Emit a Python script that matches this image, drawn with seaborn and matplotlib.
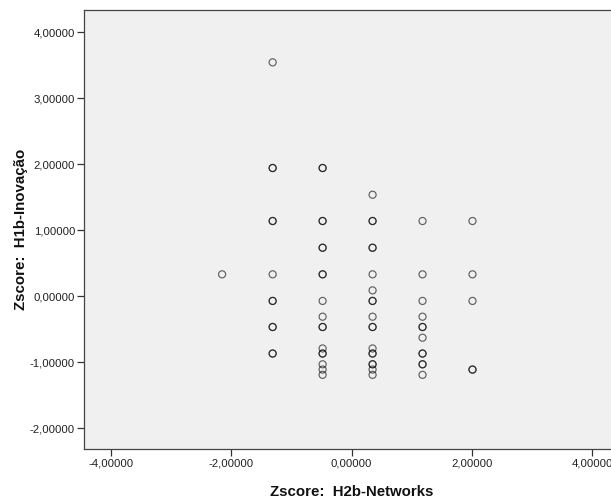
import seaborn as sns
import matplotlib.pyplot as plt
import pandas as pd

# x positions of the columns (z-score of H2b-Networks)
net_levels = [-2.15, -1.31, -0.48, 0.35, 1.18, 2.01]
# y values (z-score of H1b-Inovacao) per column; repeats = overlapping cases
inov_col1 = [0.333]
inov_col2 = [3.545, 1.944, 1.944, 1.141, 1.141, 0.333, -0.07, -0.07,
             -0.465, -0.465, -0.867, -0.867]
inov_col3 = [1.944, 1.944, 1.141, 1.141, 0.736, 0.736, 0.333, 0.333, -0.07,
             -0.309, -0.465, -0.465, -0.79, -0.867, -0.867, -1.03, -1.11, -1.19]
inov_col4 = [1.539, 1.141, 1.141, 0.736, 0.736, 0.333, 0.09, -0.07, -0.07,
             -0.309, -0.465, -0.465, -0.79, -0.867, -0.867, -1.03, -1.03,
             -1.11, -1.19]
inov_col5 = [1.141, 0.333, -0.07, -0.309, -0.465, -0.465, -0.627, -0.867,
             -0.867, -1.03, -1.03, -1.19]
inov_col6 = [1.141, 0.333, -0.07, -1.11, -1.11]
x_ticks = [-4, -2, 0, 2, 4]
y_ticks = [-2, -1, 0, 1, 2, 3, 4]

cols = [inov_col1, inov_col2, inov_col3, inov_col4, inov_col5, inov_col6]
frames = []
for lvl, ys in zip(net_levels, cols):
    frames.append(pd.DataFrame({"net": lvl, "inov": ys}))
df = pd.concat(frames, ignore_index=True)

sns.set_style("white")
plt.rcParams["font.family"] = ["Liberation Sans", "DejaVu Sans"]

fig = plt.figure(figsize=(6.11, 5.01), dpi=100)
ax = fig.add_axes([84 / 611, 51.7 / 501, 535 / 611, 439.3 / 501])
ax.set_facecolor("#f0f0f0")

sns.scatterplot(data=df, x="net", y="inov", ax=ax, marker="o", s=26,
                facecolor="none", edgecolor="black", linewidth=0.85, alpha=0.6)

ax.set_xlim(-4.444, 4.444)
ax.set_ylim(-2.318, 4.338)
ax.set_xticks(x_ticks)
ax.set_yticks(y_ticks)
fmt = plt.FuncFormatter(lambda v, loc: "{:.5f}".format(v).replace(".", ","))
ax.xaxis.set_major_formatter(fmt)
ax.yaxis.set_major_formatter(fmt)
ax.tick_params(direction="out", length=5, width=0.9, color="#333333",
               labelsize=8.2, labelcolor="#222222", pad=1.5,
               bottom=True, left=True)

for side in ["left", "bottom", "top", "right"]:
    ax.spines[side].set_color("#444444")
    ax.spines[side].set_linewidth(0.9)

ax.set_xlabel("Zscore:  H2b-Networks", fontsize=10.8, fontweight="bold", color="#111111")
ax.set_ylabel("Zscore:  H1b-Inovação", fontsize=10.8, fontweight="bold", color="#111111")
ax.xaxis.set_label_coords(0.5, -0.081)
ax.yaxis.set_label_coords(-0.1056, 0.5)

plt.savefig("out.png", dpi=100)
